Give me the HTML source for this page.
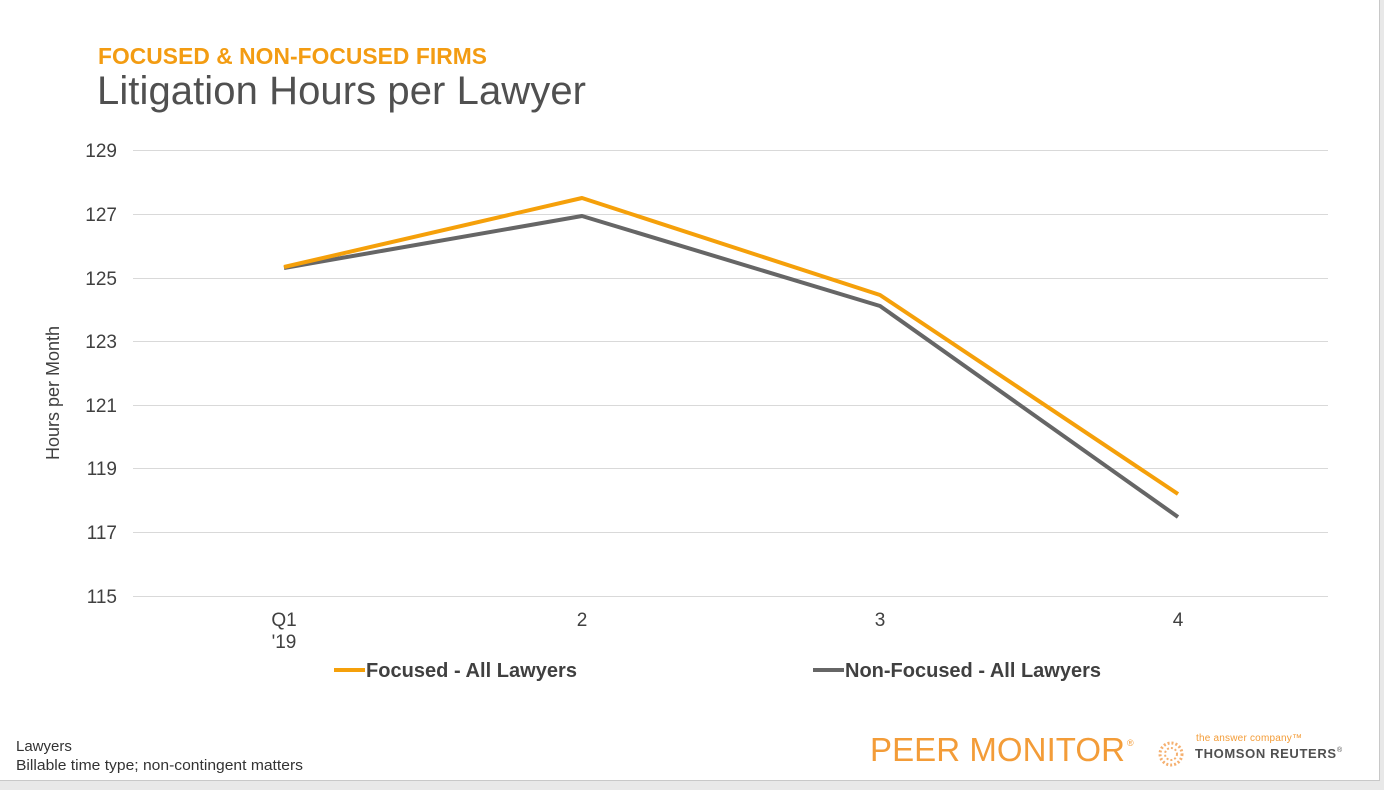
<!DOCTYPE html>
<html><head><style>
html,body{margin:0;padding:0;}
body{width:1384px;height:785px;background:#e8e8e8;position:relative;overflow:hidden;font-family:"Liberation Sans",Arial,sans-serif;}
.slide{position:absolute;left:0;top:0;width:1379px;height:780px;background:#fff;border-right:1px solid #c8c8c8;border-bottom:1px solid #c8c8c8;}
</style></head><body>
<div class="slide">
<svg width="1384" height="785" xmlns="http://www.w3.org/2000/svg" font-family="Liberation Sans, Arial, sans-serif">
<text x="98" y="64" font-size="22.8" font-weight="bold" fill="#f39c12" textLength="389">FOCUSED &amp; NON-FOCUSED FIRMS</text>
<text x="97" y="104" font-size="40" fill="#505050" textLength="489">Litigation Hours per Lawyer</text>
<g stroke="#d9d9d9" stroke-width="1">
<line x1="133" x2="1328" y1="150.5" y2="150.5"/>
<line x1="133" x2="1328" y1="214.5" y2="214.5"/>
<line x1="133" x2="1328" y1="278.5" y2="278.5"/>
<line x1="133" x2="1328" y1="341.5" y2="341.5"/>
<line x1="133" x2="1328" y1="405.5" y2="405.5"/>
<line x1="133" x2="1328" y1="468.5" y2="468.5"/>
<line x1="133" x2="1328" y1="532.5" y2="532.5"/>
<line x1="133" x2="1328" y1="596.5" y2="596.5"/>
</g>
<g font-size="19" fill="#404040" text-anchor="end">
<text x="117" y="157">129</text>
<text x="117" y="221">127</text>
<text x="117" y="285">125</text>
<text x="117" y="348">123</text>
<text x="117" y="412">121</text>
<text x="117" y="475">119</text>
<text x="117" y="539">117</text>
<text x="117" y="603">115</text>
</g>
<text transform="translate(59,393) rotate(-90)" font-size="18" fill="#404040" text-anchor="middle">Hours per Month</text>
<g font-size="19" fill="#404040" text-anchor="middle">
<text x="284" y="626">Q1</text>
<text x="284" y="648">'19</text>
<text x="582" y="626">2</text>
<text x="880" y="626">3</text>
<text x="1178" y="626">4</text>
</g>
<polyline points="284,268 582,216 880,306 1178,517" fill="none" stroke="#666" stroke-width="4" stroke-linejoin="round"/>
<polyline points="284,267 582,198 880,295 1178,494" fill="none" stroke="#f5a00a" stroke-width="4" stroke-linejoin="round"/>
<line x1="334" x2="365" y1="670" y2="670" stroke="#f5a00a" stroke-width="4"/>
<text x="366" y="677" font-size="20" font-weight="bold" fill="#404040" textLength="211">Focused - All Lawyers</text>
<line x1="813" x2="844" y1="670" y2="670" stroke="#666" stroke-width="4"/>
<text x="845" y="677" font-size="20" font-weight="bold" fill="#404040" textLength="256">Non-Focused - All Lawyers</text>
<text x="16" y="751" font-size="15" fill="#333">Lawyers</text>
<text x="16" y="770" font-size="15" fill="#333" textLength="287" lengthAdjust="spacingAndGlyphs">Billable time type; non-contingent matters</text>
<text x="870" y="761" font-size="33" fill="#f39c38" textLength="255">PEER MONITOR</text>
<text x="1127" y="746" font-size="9" fill="#f39c38">®</text>
<circle cx="1171" cy="754" r="11" fill="none" stroke="#f5b070" stroke-width="3" stroke-dasharray="2 2"/>
<circle cx="1171" cy="754" r="6" fill="none" stroke="#f5b070" stroke-width="2" stroke-dasharray="2 2"/>
<text x="1196" y="741" font-size="10" fill="#f39c38" textLength="106">the answer company™</text>
<text x="1195" y="758" font-size="13" font-weight="bold" fill="#505050" textLength="141">THOMSON REUTERS</text>
<text x="1337" y="752" font-size="7" fill="#505050">®</text>
</svg>
</div>
</body></html>
